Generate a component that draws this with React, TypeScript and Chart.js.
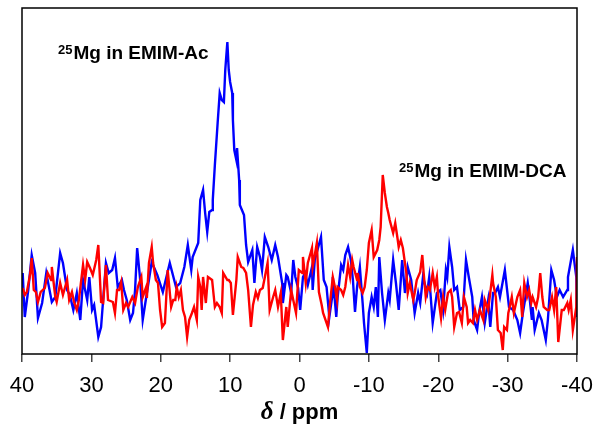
import React, { useEffect, useRef } from "react";
import { Chart, registerables } from "chart.js";
Chart.register(...registerables);

// chemical shift (ppm) and intensity (arbitrary units)
const ppmBlue = [
  39.9, 39.6, 39.1, 38.6, 38.1, 37.7, 37.1, 36.5, 35.7, 35.2,
  34.5, 34.1, 33.5, 33.1, 32.6, 32.1, 31.6, 31.2, 30.6, 30.3,
  29.9, 29.6, 29.0, 28.6, 27.9, 27.5, 27.0, 26.6, 26.2, 25.6,
  25.3, 24.9, 24.4, 24.0, 23.7, 23.4, 23.0, 22.6, 22.0, 21.3,
  20.5, 19.7, 18.7, 17.8, 17.2, 16.6, 16.1, 15.6, 15.4, 14.6,
  14.3, 13.9, 13.6, 13.3, 13.0, 12.6, 12.5, 12.2, 11.8, 11.5,
  11.2, 10.9, 10.7, 10.4, 10.2, 10.0, 9.7, 9.6, 9.4, 9.1,
  9.0, 8.7, 8.6, 8.3, 8.0, 7.7, 7.4, 6.8, 6.5, 6.1,
  5.7, 5.4, 5.0, 4.5, 4.0, 3.5, 3.1, 2.5, 2.4, 1.9,
  1.7, 1.2, 0.9, 0.6, 0.2, -0.1, -0.5, -0.8, -1.2, -1.8,
  -1.9, -2.2, -3.1, -3.5, -3.9, -4.3, -4.7, -4.8, -5.3, -5.5,
  -6.0, -6.3, -6.6, -7.0, -7.4, -7.7, -8.0, -8.3, -8.7, -9.1,
  -9.3, -9.7, -10.0, -10.4, -10.7, -11.0, -11.3, -11.5, -11.9, -12.3,
  -12.8, -13.0, -13.5, -13.9, -14.3, -14.8, -15.2, -15.6, -16.1, -16.6,
  -17.1, -17.4, -17.8, -18.4, -18.7, -19.2, -19.8, -20.3, -20.7, -21.1,
  -21.3, -21.6, -22.0, -22.3, -22.7, -23.1, -23.6, -24.0, -24.4, -24.9,
  -25.1, -25.6, -25.9, -26.3, -26.7, -27.2, -27.5, -27.9, -28.2, -28.6,
  -28.9, -29.6, -30.2, -30.8, -31.4, -31.8, -32.2, -32.9, -33.2, -33.5,
  -33.6, -33.9, -34.5, -34.9, -35.5, -35.8, -36.3, -36.7, -37.1, -37.5,
  -38.0, -38.6, -38.7, -39.4, -39.9, -40.0,
];
const intBlue = [
  40.5, 18.5, 32, 49.5, 40.5, 18, 25.5, 40.5, 26, 28.5,
  50.5, 45.5, 32, 29.5, 22, 30.5, 17, 37, 27, 38.5,
  22, 24.5, 8.5, 13.5, 45.5, 40.5, 42, 48, 33.5, 37,
  32, 27, 17, 20.5, 32, 53, 38.5, 17, 30.5, 46,
  39.5, 31, 45.5, 33.5, 35.5, 43.5, 54.5, 42, 48.5, 55.5,
  77, 82, 70.5, 61, 71, 72, 77, 94.5, 115.5, 130.5,
  127, 126, 142, 156, 142, 136, 130.5, 117, 102, 97,
  103, 87, 74.5, 72, 69.5, 54.5, 46, 52, 35.5, 53.5,
  48.5, 42, 58.5, 53.5, 47, 54.5, 48.5, 35.5, 25.5, 39.5,
  38.5, 30.5, 47, 38.5, 33, 22, 38.5, 40.5, 34.5, 43.5,
  32, 47, 58.5, 37, 33.5, 18.5, 28.5, 38.5, 18.5, 28.5,
  44.5, 42, 49.5, 53.5, 47, 37, 21, 33.5, 43.5, 25.5,
  15.5, 0.5, 20.5, 28.5, 23.5, 33.5, 18.5, 48.5, 30.5, 17,
  30.5, 27, 47, 35.5, 22, 47, 30.5, 43.5, 37, 20.5,
  30.5, 25.5, 38.5, 30.5, 38.5, 15.5, 30.5, 32, 22, 42,
  38.5, 53.5, 43.5, 32, 33.5, 22, 23.5, 47, 38.5, 28.5,
  17, 12, 21, 28.5, 15.5, 27, 13.5, 30.5, 30.5, 33.5,
  28.5, 42, 23.5, 22, 17, 10.5, 20.5, 35.5, 27, 17,
  23.5, 12, 20.5, 17, 7, 17, 42, 37, 28.5, 32,
  28.5, 32, 38.5, 52, 38.5, 18.5,
];
const ppmRed = [
  39.9, 39.6, 39.3, 38.8, 38.6, 38.3, 38.0, 37.7, 37.3, 36.7,
  36.3, 35.8, 35.7, 35.2, 35.0, 34.5, 34.1, 33.5, 33.2, 32.8,
  32.5, 32.1, 31.8, 31.2, 30.9, 30.6, 30.2, 29.8, 29.3, 29.0,
  28.6, 28.3, 27.9, 27.6, 26.9, 26.6, 26.3, 26.0, 25.7, 25.4,
  25.0, 24.7, 24.1, 23.7, 23.3, 22.8, 22.6, 22.1, 22.0, 21.7,
  21.3, 21.1, 20.7, 20.4, 20.1, 19.8, 19.4, 19.0, 18.5, 18.2,
  17.9, 17.7, 17.4, 17.1, 16.8, 16.5, 16.2, 15.9, 15.5, 15.2,
  14.8, 14.6, 14.3, 14.1, 13.9, 13.5, 13.2, 12.6, 12.2, 11.9,
  11.5, 11.2, 11.0, 10.4, 10.2, 9.9, 9.6, 9.1, 8.9, 8.4,
  8.1, 7.7, 7.4, 7.0, 6.7, 6.3, 6.0, 5.7, 5.3, 4.6,
  4.3, 3.8, 3.5, 3.1, 2.7, 2.4, 1.9, 1.7, 1.2, 0.9,
  0.5, 0.1, -0.4, -0.5, -0.9, -1.2, -1.8, -1.9, -2.5, -2.8,
  -3.2, -3.4, -4.1, -4.4, -4.8, -5.1, -5.4, -5.5, -6.0, -6.3,
  -6.6, -7.0, -7.3, -7.6, -7.8, -8.3, -8.4, -8.7, -9.1, -9.4,
  -9.7, -10.0, -10.4, -10.7, -11.2, -11.5, -11.7, -12.0, -12.3, -12.6,
  -12.8, -13.0, -13.5, -13.8, -14.1, -14.3, -14.6, -14.9, -15.4, -15.6,
  -15.9, -16.4, -16.6, -16.9, -17.4, -17.7, -17.9, -18.2, -18.5, -18.8,
  -19.2, -19.5, -19.8, -20.0, -20.4, -20.7, -21.0, -21.4, -21.8, -22.0,
  -22.3, -22.7, -23.0, -23.4, -23.7, -24.1, -24.3, -24.6, -25.0, -25.3,
  -25.6, -26.0, -26.5, -26.7, -27.2, -27.8, -27.9, -28.3, -28.6, -29.0,
  -29.3, -29.5, -29.9, -30.1, -30.3, -30.6, -30.9, -31.4, -31.8, -32.1,
  -32.4, -32.8, -33.1, -33.4, -33.6, -34.1, -34.4, -34.7, -35.0, -35.2,
  -35.7, -36.0, -36.4, -36.7, -37.0, -37.3, -37.8, -38.1, -38.6, -38.8,
  -39.1, -39.4, -39.9, -40.0,
];
const intRed = [
  33, 29.5, 31, 40.5, 48, 32, 31, 26, 31, 33,
  40.5, 37, 43.5, 28.5, 26, 35.5, 29.5, 37, 27, 31,
  26, 22, 27, 44.5, 37, 46, 43, 39.5, 47, 54.5,
  26, 25.5, 44.5, 27, 26, 20.5, 32, 32, 36, 22,
  25.5, 23.5, 28.5, 25.5, 33.5, 38.5, 28.5, 33.5, 28, 45.5,
  53.5, 45.5, 37, 35.5, 22, 13.5, 15.5, 42, 23.5, 27,
  27, 33.5, 28.5, 32, 22, 18.5, 8.5, 17, 20.5, 23.5,
  17, 38.5, 33.5, 22, 38.5, 25.5, 38.5, 37, 23.5, 25.5,
  23.5, 20.5, 40.5, 37, 37, 35.5, 19.5, 37, 48.5, 43.5,
  43, 40.5, 32, 13.5, 24.5, 31, 28, 32, 33, 45.5,
  22, 28.5, 32, 23.5, 30.5, 7, 23.5, 13.5, 32, 27,
  20.5, 42, 40.5, 48.5, 35.5, 45.5, 53, 43.5, 55.5, 31,
  24.5, 20.5, 13.5, 25.5, 38.5, 33.5, 27, 33.5, 32, 29.5,
  33.5, 44.5, 38.5, 47, 43.5, 37, 40.5, 33.5, 30.5, 33.5,
  42, 55.5, 62, 48.5, 52, 57, 63.5, 89.5, 80.5, 73.5,
  70.5, 67, 60.5, 65.5, 58.5, 53.5, 57, 53, 40.5, 30.5,
  35.5, 27, 30.5, 37, 41, 49.5, 40.5, 28.5, 33.5, 32,
  40.5, 33.5, 38.5, 28.5, 18, 28.5, 22, 30.5, 32, 28.5,
  13.5, 20.5, 21, 15.5, 28.5, 23.5, 15.5, 17, 15.5, 22,
  17, 22, 17, 27, 22, 39.5, 35.5, 28.5, 12, 10.5,
  2, 13.5, 12, 20.5, 23.5, 28.5, 20.5, 28.5, 32, 18.5,
  35.5, 28.5, 32, 25.5, 28.5, 23.5, 28.5, 40.5, 28.5, 23.5,
  22, 22, 28.5, 22, 33.5, 6, 22, 22, 25.5, 22,
  27, 12, 23.5, 48.5,
];
const xTickValues = [40, 30, 20, 10, 0, -10, -20, -30, -40];
const labelAc = { sup: "25", main: "Mg in EMIM-Ac" };
const labelDca = { sup: "25", main: "Mg in EMIM-DCA" };
const axisSymbol = "δ";
const axisRest = " / ppm";

const FONT = "'Liberation Sans', Arial, Helvetica, sans-serif";

export default function App() {
  const ref = useRef<HTMLCanvasElement>(null);
  useEffect(() => {
    document.body.style.margin = "0";
    const canvas = ref.current;
    if (!canvas) return;

    const bg = {
      id: "bg",
      beforeDraw(c: any) {
        const ctx = c.ctx;
        ctx.save();
        ctx.fillStyle = "#fff";
        ctx.fillRect(0, 0, c.width, c.height);
        ctx.restore();
      },
    };

    const deco = {
      id: "deco",
      afterDraw(c: any) {
        const ctx = c.ctx;
        const a = c.chartArea;
        ctx.save();
        ctx.strokeStyle = "#000";
        ctx.lineWidth = 1.5;
        ctx.strokeRect(a.left, a.top, a.right - a.left, a.bottom - a.top);

        const drawLabel = (l: { sup: string; main: string }, x: number, y: number) => {
          ctx.fillStyle = "#000";
          ctx.textAlign = "left";
          ctx.textBaseline = "alphabetic";
          ctx.font = `bold 13px ${FONT}`;
          ctx.fillText(l.sup, x, y - 5);
          const w = ctx.measureText(l.sup).width;
          ctx.font = `bold 19px ${FONT}`;
          ctx.fillText(l.main, x + w + 1, y);
        };
        drawLabel(labelAc, 58, 59);
        drawLabel(labelDca, 399, 177);

        // axis title with italic delta
        const symFont = `italic bold 25px 'Liberation Serif', 'Times New Roman', serif`;
        const restFont = `bold 22px ${FONT}`;
        ctx.font = symFont;
        const w1 = ctx.measureText(axisSymbol).width;
        ctx.font = restFont;
        const w2 = ctx.measureText(axisRest).width;
        const cx = (a.left + a.right) / 2;
        const x0 = cx - (w1 + w2) / 2;
        const yb = 419;
        ctx.fillStyle = "#000";
        ctx.font = symFont;
        ctx.fillText(axisSymbol, x0, yb);
        ctx.font = restFont;
        ctx.fillText(axisRest, x0 + w1, yb);
        ctx.restore();
      },
    };

    const chart = new Chart(canvas, {
      type: "scatter",
      data: {
        datasets: [
          {
            label: "EMIM-DCA",
            data: ppmRed.map((x, i) => ({ x, y: intRed[i] })),
            showLine: true,
            borderColor: "#ff0000",
            backgroundColor: "#ff0000",
            borderWidth: 2.4,
            pointRadius: 0,
            tension: 0,
          },
          {
            label: "EMIM-Ac",
            data: ppmBlue.map((x, i) => ({ x, y: intBlue[i] })),
            showLine: true,
            borderColor: "#0000ff",
            backgroundColor: "#0000ff",
            borderWidth: 2.4,
            pointRadius: 0,
            tension: 0,
          },
        ],
      },
      options: {
        responsive: false,
        animation: false,
        events: [],
        layout: { padding: { left: 22, right: 20, top: 8, bottom: 0 } },
        plugins: {
          legend: { display: false },
          tooltip: { enabled: false },
          title: { display: false },
        },
        scales: {
          x: {
            type: "linear",
            reverse: true,
            min: -40,
            max: 40,
            afterBuildTicks: (scale: any) => {
              scale.ticks = xTickValues.map((v) => ({ value: v }));
            },
            afterFit: (scale: any) => {
              scale.height = 76;
              scale.paddingLeft = 0;
              scale.paddingRight = 0;
            },
            ticks: {
              font: { family: FONT, size: 22 },
              color: "#000",
              padding: 11,
              maxRotation: 0,
              autoSkip: false,
            },
            grid: {
              display: true,
              drawOnChartArea: false,
              drawTicks: true,
              tickLength: 8,
              color: "#444",
              lineWidth: 1.5,
            },
            border: { display: false },
          },
          y: {
            display: false,
            min: 0,
            max: 173,
          },
        },
      },
      plugins: [bg, deco],
    });
    return () => chart.destroy();
  }, []);

  return <canvas ref={ref} width={597} height={430} style={{ display: "block" }} />;
}
